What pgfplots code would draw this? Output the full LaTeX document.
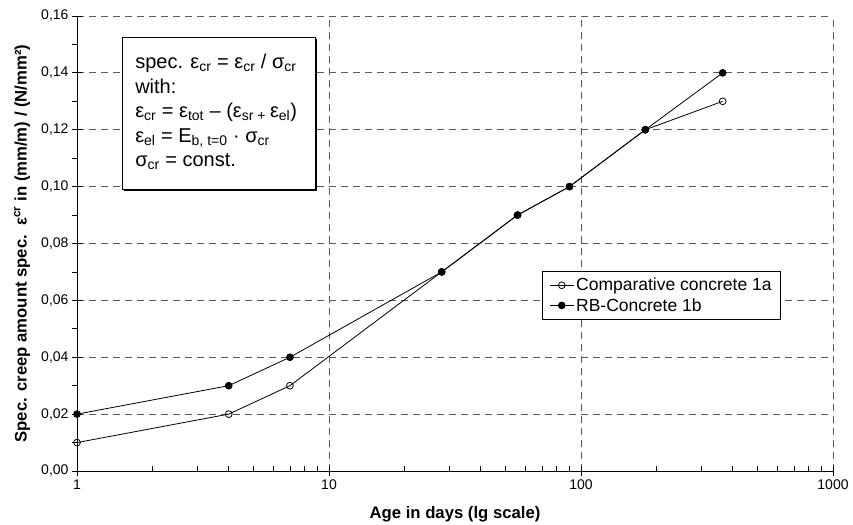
\documentclass[border=0pt]{standalone}
\usepackage{fontspec}
\setmainfont{Liberation Sans}
\usepackage{pgfplots}
\pgfplotsset{compat=1.18}
\begin{document}
\begin{tikzpicture}
\useasboundingbox (-77bp,-54bp) rectangle (776bp,471bp);
\begin{axis}[
  at={(0,0)}, anchor=south west,
  scale only axis, width=756bp, height=455bp,
  xmode=log, xmin=1, xmax=1000, ymin=0, ymax=0.16,
  clip=false,
  axis lines=left, axis line style={-, line width=0.9bp},
  xtick={1,10,100,1000}, xticklabels={1,10,100,1000},
  minor xtick={2,3,4,5,6,7,8,9,20,30,40,50,60,70,80,90,200,300,400,500,600,700,800,900},
  ytick={0,0.02,0.04,0.06,0.08,0.10,0.12,0.14,0.16},
  minor ytick={0.01,0.03,0.05,0.07,0.09,0.11,0.13,0.15},
  yticklabel style={/pgf/number format/.cd, use comma, fixed, fixed zerofill, precision=2, assume math mode=true},
  ticklabel style={font=\fontsize{14bp}{16bp}\selectfont},
  tick style={black, line width=0.8bp},
  major tick length=10bp, minor tick length=5bp,
  tick align=center,
  every minor x tick/.append style={yshift=2.5bp},
  every minor y tick/.append style={xshift=-2.5bp},
  grid=major,
  major grid style={black!65, line width=0.8bp, dash pattern=on 7bp off 5bp},
  xlabel={Age in days (lg scale)},
  ylabel={Spec. creep amount spec.\ \ ε\textsuperscript{cr} in (mm/m) / (N/mm²)},
  label style={font=\bfseries\fontsize{16.7bp}{18bp}\selectfont},
  xlabel style={at={(axis description cs:0.5,-0.0945)}, anchor=center},
  ylabel style={at={(axis description cs:-0.0728,0.5)}, anchor=center},
  legend style={at={(rel axis cs:0.615,0.44)}, anchor=north west, draw=black, line width=0.8bp,
    font=\fontsize{17.5bp}{20bp}\selectfont, inner xsep=7bp, inner ysep=5bp, row sep=2bp},
  legend cell align=left,
  legend image code/.code={\draw[mark repeat=2,mark phase=2] plot coordinates {(0bp,0bp) (12bp,0bp) (24bp,0bp)};},
]
\addplot[black, line width=0.8bp, mark=o, mark size=3.4bp, mark options={fill=white, solid}]
  coordinates {(1,0.01) (4,0.02) (7,0.03) (28,0.07) (56,0.09) (90,0.10) (180,0.12) (365,0.13)};
\addlegendentry{Comparative concrete 1a}
\addplot[black, line width=0.8bp, mark=*, mark size=3.4bp, mark options={fill=black, solid}]
  coordinates {(1,0.02) (4,0.03) (7,0.04) (28,0.07) (56,0.09) (90,0.10) (180,0.12) (365,0.14)};
\addlegendentry{RB-Concrete 1b}
\draw[line width=1.3bp, shift={(1bp,-1bp)}] (axis cs:8.8,0.1523) -- (axis cs:8.8,0.0989) -- (axis cs:1.52,0.0989);
\draw[line width=0.9bp, fill=white] (axis cs:1.52,0.1523) rectangle (axis cs:8.8,0.0989);
\node[anchor=base west, align=left, inner sep=0pt, font=\fontsize{20bp}{24.5bp}\selectfont] at (axis cs:1.70,0.1070)
  {spec. ε\textsubscript{cr} = ε\textsubscript{cr} / σ\textsubscript{cr}\\
   with:\\
   ε\textsubscript{cr} = ε\textsubscript{tot} – (ε\textsubscript{sr + }ε\textsubscript{el})\\
   ε\textsubscript{el} = E\textsubscript{b, t=0} · σ\textsubscript{cr}\\
   σ\textsubscript{cr} = const.};
\end{axis}
\end{tikzpicture}
\end{document}
